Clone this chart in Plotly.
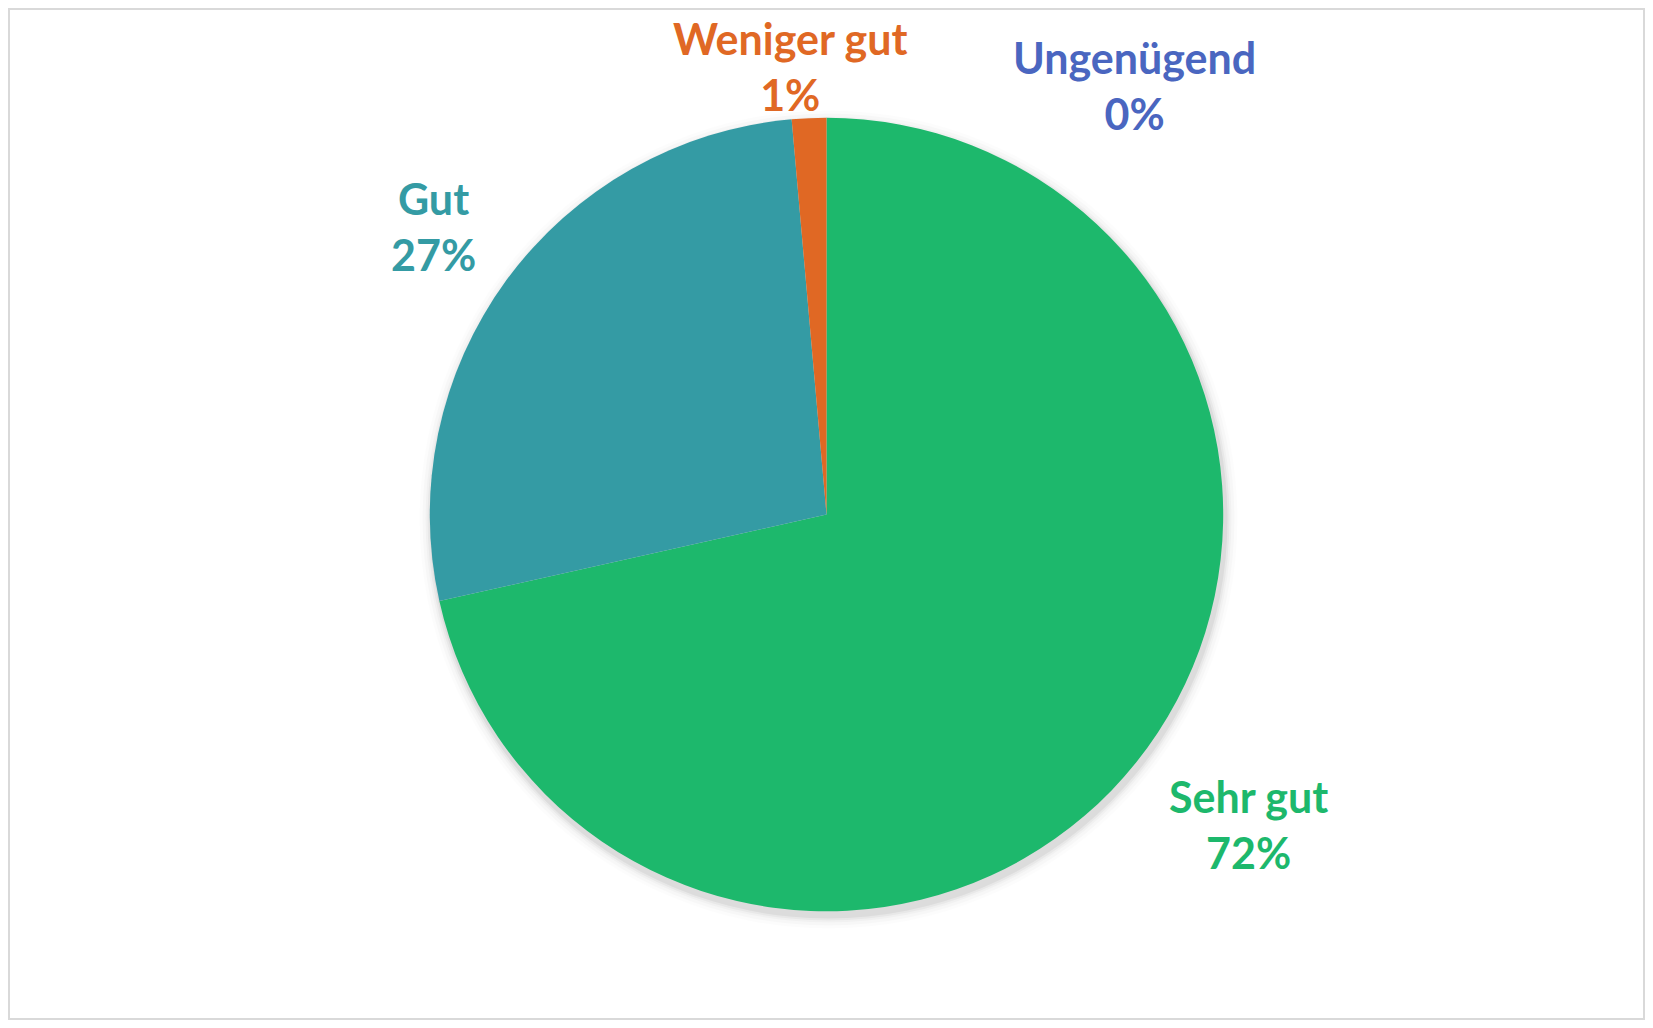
import math
import plotly.graph_objects as go

# survey answers (share in %)
labels = ["Sehr gut", "Gut", "Weniger gut", "Ungenügend"]
shares = [71.5, 27.1, 1.4, 0.0]
colors = ["#1DB86C", "#349BA4", "#E06824", "#4A66C0"]

# where Excel put the data labels (paper coords)
label_pos = {
    "Sehr gut": (0.758, 0.193),
    "Gut": (0.260, 0.784),
    "Weniger gut": (0.478, 0.942),
    "Ungenügend": (0.688, 0.9235),
}

total = sum(shares)
pcts = [int(math.floor(v / total * 100 + 0.5)) for v in shares]

fig = go.Figure()
fig.add_trace(go.Pie(
    labels=labels,
    values=shares,
    sort=False,
    direction="clockwise",
    rotation=0,
    marker=dict(colors=colors, line=dict(width=0)),
    textinfo="none",
    hoverinfo="label+percent",
    showlegend=False,
    domain=dict(x=[0, 1], y=[0.1075, 0.8915]),
))

# soft drop shadow behind the pie
R = 397
for grow, op in [(12, 0.012), (9, 0.018), (6, 0.025), (4, 0.035), (2, 0.05)]:
    fig.add_shape(type="circle", xref="paper", yref="paper",
                  xsizemode="pixel", ysizemode="pixel",
                  xanchor=0.5, yanchor=0.4995,
                  x0=-R - grow + 2, x1=R + grow + 2, y0=-R - grow - 5, y1=R + grow - 5,
                  fillcolor="rgba(0,0,0,%s)" % op, line=dict(width=0), layer="below")

for lab, p, col in zip(labels, pcts, colors):
    x, y = label_pos[lab]
    fig.add_annotation(x=x, y=y, xref="paper", yref="paper",
                       xanchor="center", yanchor="middle",
                       text="<b>%s<br>%d%%</b>" % (lab, p),
                       showarrow=False, align="center",
                       font=dict(family="Lato", size=43, color=col))

# chart border
fig.add_shape(type="rect", xref="paper", yref="paper", x0=0, x1=1, y0=0, y1=1,
              line=dict(color="#D9D9D9", width=4))

fig.update_layout(width=1637, height=1012,
                  margin=dict(l=0, r=0, t=0, b=0),
                  paper_bgcolor="white", plot_bgcolor="white")

fig.write_html("out.html")
